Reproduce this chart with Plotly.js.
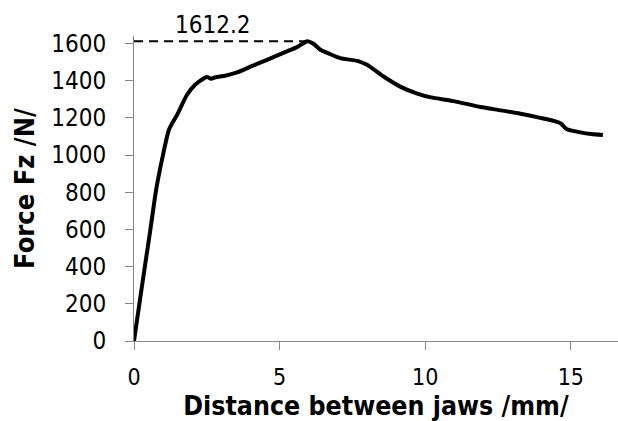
<!DOCTYPE html>
<html>
<head>
<meta charset="utf-8">
<script src="https://cdn.plot.ly/plotly-3.0.1.min.js"></script>
<style>html,body{margin:0;padding:0;background:#fff;}#chart{width:618px;height:421px;}</style>
</head>
<body>
<div id="chart"></div>
<script>
// Distance between jaws (mm)
const distance = [0, 0.22, 0.39, 0.56, 0.76, 0.96, 1.2, 1.48, 1.82, 2.1, 2.5, 2.65, 2.8, 3.13, 3.54, 4.0, 4.57, 5.25, 5.6, 5.95, 6.15, 6.4, 6.7, 7.08, 7.7, 8.0, 8.57, 9.14, 9.7, 10.2, 10.98, 11.9, 12.6, 13.27, 13.95, 14.5, 14.65, 14.85, 15.33, 15.7, 16.1];
// Force Fz (N)
const force = [0, 238, 418, 597, 813, 974, 1136, 1216, 1324, 1378, 1420, 1410, 1418, 1426, 1444, 1475, 1512, 1557, 1580, 1612.2, 1600, 1566, 1545, 1521, 1505, 1485, 1422, 1368, 1332, 1310, 1290, 1258, 1240, 1222, 1200, 1180, 1170, 1140, 1122, 1113, 1108];
const xTicks = [0, 5, 10, 15];
const yTicks = [0, 200, 400, 600, 800, 1000, 1200, 1400, 1600];

const peak = Math.max(...force);
const peakX = distance[force.indexOf(peak)];

const font = '"DejaVu Sans Condensed", "DejaVu Sans", Tahoma, sans-serif';

const traces = [
  {x: distance, y: force, type: 'scatter', mode: 'lines',
   line: {color: '#000', width: 4, shape: 'spline', smoothing: 0.6}, hoverinfo: 'skip'},
  {x: [0, peakX], y: [peak, peak], type: 'scatter', mode: 'lines',
   line: {color: '#000', width: 2, dash: '9px,6px'}, hoverinfo: 'skip'}
];

const layout = {
  width: 618, height: 421,
  margin: {l: 134, r: 0, t: 36, b: 80},
  paper_bgcolor: '#fff', plot_bgcolor: '#fff',
  showlegend: false,
  font: {family: font, size: 24, color: '#000'},
  xaxis: {
    range: [0, 16.62], tickvals: xTicks, ticktext: xTicks.map(String),
    showgrid: false, zeroline: false, showline: true, linecolor: '#868686', linewidth: 1,
    ticks: 'outside', ticklen: 8, tickcolor: '#868686', tickwidth: 1, ticklabelstandoff: 7,
    tickfont: {family: font, size: 23, color: '#000'},
    title: {text: 'Distance between jaws /mm/', font: {family: font, size: 26.5, color: '#000', weight: 'bold'}, standoff: 1}
  },
  yaxis: {
    range: [0, 1640], tickvals: yTicks, ticktext: yTicks.map(String),
    showgrid: false, zeroline: false, showline: true, linecolor: '#868686', linewidth: 1,
    ticks: 'outside', ticklen: 8, tickcolor: '#868686', tickwidth: 1, ticklabelstandoff: 14,
    tickfont: {family: font, size: 24, color: '#000'},
    title: {text: 'Force Fz /N/', font: {family: font, size: 27, color: '#000', weight: 'bold'}, standoff: 8}
  },
  annotations: [{
    x: 2.72, y: peak, xref: 'x', yref: 'y', text: String(peak), showarrow: false,
    yanchor: 'bottom', yshift: 0, font: {family: font, size: 24, color: '#000'}
  }]
};

Plotly.newPlot('chart', traces, layout, {staticPlot: true, displayModeBar: false});
</script>
</body>
</html>
